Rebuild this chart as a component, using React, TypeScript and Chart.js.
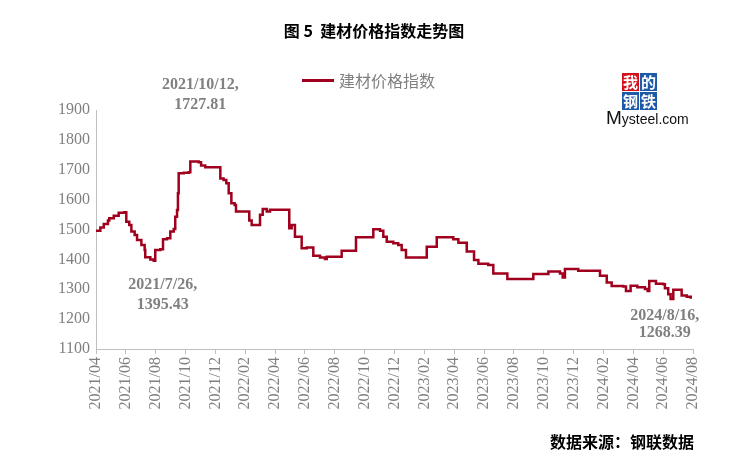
import React, { useEffect, useRef } from "react";
import { Chart, registerables } from "chart.js";

Chart.register(...registerables);

// x: months elapsed since 2021/04 ; y: index value (step levels)
const monthOffsets = [
  0.0, 0.29, 0.52, 0.8, 0.89, 1.19, 1.52, 1.9, 2.03, 2.23, 2.37, 2.59, 2.75, 3.04, 3.26, 3.3, 3.64, 3.87, 3.97,
  4.31, 4.49, 4.76, 4.98, 5.21, 5.31, 5.43, 5.49, 5.54, 5.88, 6.21, 6.32, 6.88, 7.04, 7.32, 8.33, 8.55, 8.73,
  8.89, 9.07, 9.29, 9.38, 10.27, 10.43, 10.99, 11.17, 11.44, 11.66, 12.95, 13.11, 13.33, 13.78, 14.12, 14.56,
  15.01, 15.34, 15.46, 16.46, 17.42, 18.58, 19.03, 19.25, 19.48, 19.92, 20.25, 20.48, 20.77, 22.16, 22.83,
  23.94, 24.28, 24.84, 25.33, 25.62, 26.28, 26.62, 27.56, 29.3, 30.31, 31.09, 31.27, 31.42, 32.31, 33.77,
  34.22, 34.55, 35.33, 35.51, 35.82, 36.27, 36.78, 36.96, 37.07, 37.52, 38.01, 38.12, 38.34, 38.5, 38.68,
  39.24, 39.58, 39.85,
];
const indexValues = [
  1496, 1507, 1518, 1530, 1538, 1546, 1556, 1558, 1526, 1515, 1493, 1482, 1465, 1448, 1431, 1407, 1400, 1395.43, 1431,
  1434, 1467, 1471, 1493, 1502, 1543, 1565, 1621, 1688, 1690, 1692, 1727.81, 1725, 1714, 1708, 1671, 1666, 1655,
  1621, 1588, 1582, 1560, 1530, 1515, 1549, 1569, 1560, 1566, 1504, 1515, 1476, 1437, 1440, 1412,
  1406, 1401, 1409, 1429, 1474, 1501, 1496, 1476, 1459, 1454, 1448, 1431, 1406, 1442, 1474,
  1467, 1456, 1426, 1398, 1385, 1381, 1353, 1334, 1351, 1359, 1353, 1339, 1368, 1362, 1345,
  1323, 1311, 1309, 1294, 1312, 1307, 1301, 1294, 1328, 1318, 1317, 1303, 1283, 1267, 1298,
  1279, 1275, 1268.39,
];

const xTickLabels = [
  "2021/04", "2021/06", "2021/08", "2021/10", "2021/12", "2022/02", "2022/04", "2022/06", "2022/08", "2022/10",
  "2022/12", "2023/02", "2023/04", "2023/06", "2023/08", "2023/10", "2023/12", "2024/02", "2024/04", "2024/06",
  "2024/08",
];
const yMin = 1100;
const yMax = 1900;
const yStep = 100;

const seriesName = "建材价格指数";
const titleText = "图 5\u00a0\u00a0建材价格指数走势图";
const sourceText = "数据来源：钢联数据";

const annotationDates = ["2021/10/12,", "2021/7/26,", "2024/8/16,"];
const annotationValues = ["1727.81", "1395.43", "1268.39"];

const LINE_COLOR = "#a0001e";
const GRAY = "#808080";
const SERIF = '"Liberation Serif", "Times New Roman", serif';
const CJK = '"Noto Sans CJK SC", sans-serif';

export default function App() {
  const canvasRef = useRef<HTMLCanvasElement | null>(null);

  useEffect(() => {
    if (!canvasRef.current) return;
    const idxOf = (s: string) => indexValues.indexOf(parseFloat(s));
    const offsets = [
      { dx: 10, dy1: -77, dy2: -57 },
      { dx: 9, dy1: 24, dy2: 44 },
      { dx: -26, dy1: 17, dy2: 34 },
    ];

    const annotationPlugin = {
      id: "pointLabels",
      afterDatasetsDraw(chart: any) {
        const ctx = chart.ctx;
        const xs = chart.scales.x;
        const ys = chart.scales.y;
        ctx.save();
        ctx.font = `bold 16px ${SERIF}`;
        ctx.fillStyle = GRAY;
        ctx.textAlign = "center";
        ctx.textBaseline = "middle";
        annotationValues.forEach((val, k) => {
          const i = idxOf(val);
          if (i < 0) return;
          const o = offsets[k];
          const px = xs.getPixelForValue(monthOffsets[i]);
          const py = ys.getPixelForValue(indexValues[i]);
          ctx.fillText(annotationDates[k], px + o.dx, py + o.dy1);
          ctx.fillText(val, px + o.dx, py + o.dy2);
        });
        ctx.restore();
      },
    };

    const chart = new Chart(canvasRef.current, {
      type: "line",
      data: {
        datasets: [
          {
            label: seriesName,
            data: monthOffsets.map((m, i) => ({ x: m, y: indexValues[i] })),
            borderColor: LINE_COLOR,
            backgroundColor: LINE_COLOR,
            borderWidth: 2.5,
            pointRadius: 0,
            stepped: true,
            fill: false,
          },
        ],
      },
      options: {
        animation: false,
        responsive: false,
        devicePixelRatio: 1,
        layout: { padding: { left: 0, right: 55, top: 110, bottom: 0 } },
        plugins: {
          legend: { display: false },
          title: { display: false },
          tooltip: { enabled: false },
        },
        scales: {
          x: {
            type: "linear",
            min: 0,
            max: (xTickLabels.length - 1) * 2,
            afterBuildTicks: (scale: any) => {
              scale.ticks = xTickLabels.map((_, i) => ({ value: i * 2 }));
            },
            afterFit: (scale: any) => {
              scale.height = 120;
            },
            ticks: {
              autoSkip: false,
              minRotation: 90,
              maxRotation: 90,
              padding: 3,
              color: GRAY,
              font: { family: SERIF, size: 16 },
              callback: (v: any) => xTickLabels[Math.round(Number(v) / 2)] ?? "",
            },
            grid: {
              display: true,
              drawOnChartArea: false,
              drawTicks: true,
              tickLength: 5,
              color: "#bfbfbf",
            },
            border: { display: true, color: "#bfbfbf", width: 1 },
          },
          y: {
            min: yMin,
            max: yMax,
            afterFit: (scale: any) => {
              scale.width = 96;
            },
            ticks: {
              stepSize: yStep,
              padding: 6,
              color: GRAY,
              font: { family: SERIF, size: 16 },
              callback: (v: any) => String(v),
            },
            grid: { display: false, drawTicks: false },
            border: { display: true, color: "#bfbfbf", width: 1 },
          },
        },
      },
      plugins: [annotationPlugin],
    } as any);
    return () => chart.destroy();
  }, []);

  const box = (ch: string, bg: string, left: number, top: number) => (
    <div
      style={{
        position: "absolute",
        left,
        top,
        width: 17,
        height: 18,
        background: bg,
        color: "#fff",
        fontFamily: CJK,
        fontWeight: 700,
        fontSize: 15,
        lineHeight: "18px",
        textAlign: "center",
      }}
    >
      {ch}
    </div>
  );

  return (
    <div style={{ position: "fixed", left: 0, top: 0, width: 748, height: 469, background: "#fff", overflow: "hidden" }}>
      <canvas ref={canvasRef} width={748} height={469} style={{ position: "absolute", left: 0, top: 0 }} />
      <div
        style={{
          position: "absolute",
          left: 0,
          width: 748,
          top: 19,
          textAlign: "center",
          fontFamily: CJK,
          fontWeight: 700,
          fontSize: 16,
          lineHeight: "22px",
          color: "#000",
          whiteSpace: "pre",
        }}
      >
        {titleText}
      </div>
      <div style={{ position: "absolute", left: 302, top: 79, width: 32, height: 3, background: LINE_COLOR }} />
      <div
        style={{
          position: "absolute",
          left: 339,
          top: 69,
          fontFamily: CJK,
          fontSize: 16,
          lineHeight: "22px",
          color: GRAY,
        }}
      >
        {seriesName}
      </div>
      {box("我", "#d3121c", 622, 73)}
      {box("的", "#1f5aa6", 640, 73)}
      {box("钢", "#1f5aa6", 622, 92)}
      {box("铁", "#1f5aa6", 640, 92)}
      <div
        style={{
          position: "absolute",
          left: 606,
          top: 109,
          fontFamily: '"Liberation Sans", Arial, sans-serif',
          fontSize: 14,
          lineHeight: "18px",
          color: "#111",
          whiteSpace: "nowrap",
        }}
      >
        <span style={{ fontSize: 19 }}>M</span>ysteel.com
      </div>
      <div
        style={{
          position: "absolute",
          right: 54,
          top: 430,
          fontFamily: CJK,
          fontWeight: 700,
          fontSize: 16,
          lineHeight: "22px",
          color: "#000",
          whiteSpace: "nowrap",
        }}
      >
        {sourceText}
      </div>
    </div>
  );
}
